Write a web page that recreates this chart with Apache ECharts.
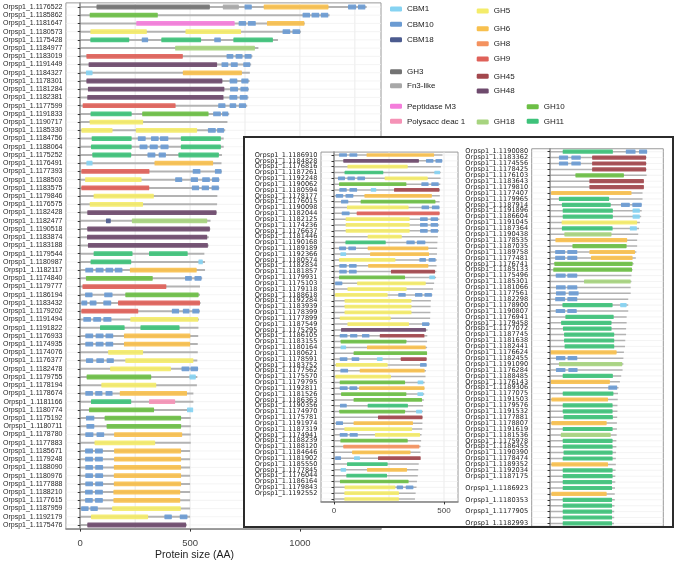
<!DOCTYPE html>
<html><head><meta charset="utf-8">
<script src="https://cdn.jsdelivr.net/npm/echarts@6/dist/echarts.min.js"></script>
<style>html,body{margin:0;padding:0;background:#fff}#c{width:675px;height:563px}</style>
</head><body><div id="c"></div>
<script>
// ---------------- DATA ----------------
const mainProteins = ['Orpsp1_1.1176522','Orpsp1_1.1185862','Orpsp1_1.1181647','Orpsp1_1.1180573','Orpsp1_1.1175428','Orpsp1_1.1184977','Orpsp1_1.1183019','Orpsp1_1.1191449','Orpsp1_1.1184327','Orpsp1_1.1178301','Orpsp1_1.1181284','Orpsp1_1.1182381','Orpsp1_1.1177599','Orpsp1_1.1191833','Orpsp1_1.1190717','Orpsp1_1.1185330','Orpsp1_1.1184756','Orpsp1_1.1188064','Orpsp1_1.1175252','Orpsp1_1.1176491','Orpsp1_1.1177393','Orpsp1_1.1188503','Orpsp1_1.1183575','Orpsp1_1.1179846','Orpsp1_1.1176575','Orpsp1_1.1182428','Orpsp1_1.1182477','Orpsp1_1.1190518','Orpsp1_1.1183874','Orpsp1_1.1183188','Orpsp1_1.1179544','Orpsp1_1.1180987','Orpsp1_1.1182117','Orpsp1_1.1174840','Orpsp1_1.1179777','Orpsp1_1.1186194','Orpsp1_1.1183432','Orpsp1_1.1179202','Orpsp1_1.1191494','Orpsp1_1.1191822','Orpsp1_1.1176933','Orpsp1_1.1174935','Orpsp1_1.1174076','Orpsp1_1.1176377','Orpsp1_1.1182478','Orpsp1_1.1179755','Orpsp1_1.1178194','Orpsp1_1.1178674','Orpsp1_1.1181166','Orpsp1_1.1180774','Orpsp1_1.1175192','Orpsp1_1.1180711','Orpsp1_1.1178780','Orpsp1_1.1177883','Orpsp1_1.1185671','Orpsp1_1.1179248','Orpsp1_1.1188090','Orpsp1_1.1180976','Orpsp1_1.1177888','Orpsp1_1.1188210','Orpsp1_1.1177615','Orpsp1_1.1187959','Orpsp1_1.1192179','Orpsp1_1.1175476'];
const mainLengths = [1304,1135,1022,1005,900,811,784,778,772,771,768,766,760,678,670,660,653,653,645,643,645,634,633,624,623,622,593,592,585,585,565,568,568,555,545,545,548,545,540,538,537,535,535,533,537,533,531,515,515,505,503,503,503,503,500,500,500,500,500,500,500,500,500,485];
// [protein index, domain, start, end]
const mainDomains = [
[0,'GH3',74,590],[0,'Fn3-like',649,722],[0,'CBM10',748,781],[0,'GH6',835,1130],[0,'CBM10',1219,1256],[0,'CBM10',1264,1298],
[1,'GH10',43,353],[1,'CBM10',1012,1046],[1,'CBM10',1053,1088],[1,'CBM10',1095,1129],
[2,'Peptidase M3',255,703],[2,'CBM10',721,755],[2,'CBM10',763,799],[2,'GH6',850,1020],
[3,'GH5',46,303],[3,'GH5',479,732],[3,'CBM10',921,956],[3,'CBM10',966,1001],
[4,'GH11',46,223],[4,'CBM10',280,309],[4,'GH11',369,550],[4,'CBM10',610,640],[4,'GH11',697,877],
[5,'GH18',432,795],
[6,'GH9',28,467],[6,'CBM10',666,697],[6,'CBM10',707,739],[6,'CBM10',748,780],
[7,'GH48',38,623],[7,'CBM10',643,674],[7,'CBM10',685,717],[7,'CBM10',742,774],
[8,'CBM1',26,56],[8,'GH6',467,736],
[9,'GH48',28,647],[9,'CBM10',680,715],[9,'CBM10',733,766],
[10,'GH48',35,656],[10,'CBM10',682,718],[10,'CBM10',729,765],
[11,'GH48',32,652],[11,'CBM10',679,715],[11,'CBM10',726,762],
[12,'GH9',11,434],[12,'CBM10',628,661],[12,'CBM10',680,710],[12,'CBM10',722,755],
[13,'GH11',47,234],[13,'GH10',282,584],[13,'CBM10',605,640],[13,'CBM10',646,674],
[14,'GH5',43,286],
[15,'GH5',5,147],[15,'GH5',253,532],[15,'CBM10',581,617],[15,'CBM10',623,655],
[16,'GH11',52,234],[16,'CBM10',262,298],[16,'CBM10',322,357],[16,'CBM10',363,401],[16,'GH11',458,640],
[17,'GH11',49,234],[17,'CBM10',270,306],[17,'CBM10',316,353],[17,'CBM10',365,402],[17,'GH11',458,640],
[18,'GH11',55,232],[18,'CBM10',306,342],[18,'CBM10',357,390],[18,'GH11',447,631],
[19,'CBM1',28,56],[19,'GH6',338,605],
[20,'GH9',5,315],[20,'CBM10',512,547],[20,'CBM10',613,643],
[21,'GH5',22,279],[21,'CBM10',432,464],[21,'CBM10',503,536],[21,'CBM10',555,590],[21,'CBM10',600,632],
[22,'GH9',5,314],[22,'CBM10',508,541],[22,'CBM10',553,586],[22,'CBM10',598,631],
[23,'GH5',61,335],
[24,'GH5',43,286],
[25,'GH48',32,620],
[26,'CBM18',117,139],[26,'GH18',235,578],
[27,'GH48',32,590],
[28,'GH48',31,578],
[29,'GH48',35,581],
[30,'GH11',61,238],[30,'GH11',313,489],
[31,'GH11',47,232],[31,'CBM1',538,558],
[32,'CBM10',23,59],[32,'CBM10',70,106],[32,'CBM10',115,150],[32,'CBM10',157,192],[32,'GH6',226,530],
[33,'GH10',26,330],[33,'CBM10',477,508],[33,'CBM10',520,552],
[34,'GH9',10,392],
[35,'CBM10',22,56],[35,'CBM10',109,147],[35,'GH10',205,539],
[36,'CBM10',5,32],[36,'CBM10',43,74],[36,'CBM10',105,141],[36,'GH9',172,545],
[37,'GH9',5,264],[37,'CBM10',417,450],[37,'CBM10',467,497],[37,'CBM10',510,542],
[38,'CBM10',14,49],[38,'CBM10',59,95],[38,'CBM10',105,142],[38,'GH5',228,537],
[39,'GH11',90,202],[39,'GH11',274,452],
[40,'CBM10',23,59],[40,'CBM10',70,106],[40,'CBM10',115,150],[40,'GH6',199,501],
[41,'CBM10',23,59],[41,'CBM10',70,106],[41,'CBM10',115,150],[41,'GH6',199,500],
[42,'GH5',127,286],
[43,'CBM10',26,59],[43,'CBM10',73,108],[43,'CBM10',120,153],[43,'GH5',205,515],
[44,'GH5',136,413],[44,'CBM10',461,497],[44,'CBM10',502,536],
[45,'GH10',29,323],[45,'CBM1',497,526],
[46,'GH5',96,346],
[47,'CBM10',23,58],[47,'CBM10',68,101],[47,'CBM10',115,147],[47,'GH6',180,486],
[48,'GH11',49,232],[48,'Polysacc deac 1',313,432],
[49,'GH10',40,336],[49,'CBM1',486,514],
[50,'CBM10',26,64],[50,'GH10',111,459],
[51,'CBM10',28,64],[51,'GH10',120,459],
[52,'CBM10',23,60],[52,'CBM10',74,109],[52,'GH6',154,464],
[53,'GH5',65,341],
[54,'CBM10',22,58],[54,'CBM10',67,103],[54,'GH6',154,459],
[55,'CBM10',22,58],[55,'CBM10',67,103],[55,'GH6',154,459],
[56,'CBM10',23,58],[56,'CBM10',68,104],[56,'GH6',153,459],
[57,'CBM10',23,58],[57,'CBM10',68,104],[57,'GH6',153,459],
[58,'CBM10',23,58],[58,'CBM10',68,104],[58,'GH6',153,459],
[59,'CBM10',22,57],[59,'CBM10',67,103],[59,'GH6',151,455],
[60,'CBM10',22,57],[60,'CBM10',67,103],[60,'GH6',151,455],
[61,'CBM10',4,38],[61,'CBM10',46,80],[61,'GH5',145,458],
[62,'GH5',49,309],[62,'CBM10',383,417],[62,'CBM10',453,488],
[63,'GH48',32,482]
];

const insetAProteins = ['Orpsp1_1.1186910','Orpsp1_1.1184828','Orpsp1_1.1176816','Orpsp1_1.1187261','Orpsp1_1.1192248','Orpsp1_1.1190062','Orpsp1_1.1180594','Orpsp1_1.1178177','Orpsp1_1.1176015','Orpsp1_1.1190098','Orpsp1_1.1182044','Orpsp1_1.1182125','Orpsp1_1.1174236','Orpsp1_1.1176637','Orpsp1_1.1181446','Orpsp1_1.1190168','Orpsp1_1.1189189','Orpsp1_1.1192366','Orpsp1_1.1180574','Orpsp1_1.1182834','Orpsp1_1.1181857','Orpsp1_1.1179931','Orpsp1_1.1175103','Orpsp1_1.1179118','Orpsp1_1.1188618','Orpsp1_1.1192284','Orpsp1_1.1183939','Orpsp1_1.1178399','Orpsp1_1.1177899','Orpsp1_1.1187549','Orpsp1_1.1175295','Orpsp1_1.1186105','Orpsp1_1.1183155','Orpsp1_1.1180164','Orpsp1_1.1180621','Orpsp1_1.1178591','Orpsp1_1.1183752','Orpsp1_1.1177562','Orpsp1_1.1175570','Orpsp1_1.1179795','Orpsp1_1.1192811','Orpsp1_1.1181526','Orpsp1_1.1186363','Orpsp1_1.1190356','Orpsp1_1.1174970','Orpsp1_1.1175781','Orpsp1_1.1191974','Orpsp1_1.1187319','Orpsp1_1.1174941','Orpsp1_1.1188239','Orpsp1_1.1188120','Orpsp1_1.1184646','Orpsp1_1.1181902','Orpsp1_1.1185550','Orpsp1_1.1177845','Orpsp1_1.1176044','Orpsp1_1.1186164','Orpsp1_1.1179843','Orpsp1_1.1192552',' '];
const insetALengths = [493,492,486,485,484,483,482,481,480,480,480,479,478,477,472,470,469,468,467,466,465,464,455,450,447,440,439,438,437,436,425,424,423,423,422,422,421,418,416,412,411,410,408,405,404,403,402,401,398,396,394,393,392,385,383,381,377,375,371,368];
const insetADomains = [
[0,'CBM10',23,59],[0,'CBM10',70,106],[0,'GH6',148,455],
[1,'GH48',42,386],[1,'CBM10',418,452],[1,'CBM10',461,492],
[2,'GH5',61,335],
[3,'GH11',48,224],[3,'CBM1',456,482],
[4,'CBM10',18,50],[4,'CBM10',61,95],[4,'CBM10',106,141],[4,'GH5',230,426],
[5,'GH10',23,329],[5,'CBM10',397,430],[5,'CBM10',442,476],
[6,'CBM10',24,58],[6,'CBM10',70,105],[6,'CBM1',167,192],[6,'GH45',273,479],
[7,'CBM10',8,42],[7,'CBM10',52,88],[7,'GH6',138,445],
[8,'CBM10',32,65],[8,'GH10',121,461],
[9,'GH5',59,339],[9,'CBM10',398,432],[9,'CBM10',445,479],
[10,'CBM10',35,71],[10,'GH9',103,480],
[11,'GH5',53,344],[11,'CBM10',391,426],[11,'CBM10',439,473],
[12,'GH5',53,344],[12,'CBM10',391,426],[12,'CBM10',439,473],
[13,'GH5',53,344],[13,'CBM10',391,426],[13,'CBM10',439,473],
[14,'GH5',153,308],
[15,'GH11',52,235],[15,'CBM10',329,367],[15,'CBM10',377,415],
[16,'CBM10',23,55],[16,'CBM10',65,100],[16,'GH6',153,429],
[17,'CBM1',29,55],[17,'GH6',164,432],
[18,'GH5',23,279],[18,'CBM10',388,418],[18,'CBM10',430,462],
[19,'CBM10',24,58],[19,'CBM10',68,103],[19,'GH6',155,429],
[20,'CBM10',24,58],[20,'CBM10',68,103],[20,'GH45',259,459],
[21,'GH10',23,323],[21,'CBM1',433,459],
[22,'CBM10',5,38],[22,'GH5',105,417],
[23,'GH5',61,330],
[24,'GH5',5,244],[24,'CBM10',292,326],[24,'CBM10',368,402],[24,'CBM10',411,445],
[25,'GH5',48,352],[26,'GH5',48,352],[27,'GH5',48,352],
[28,'GH5',26,258],
[29,'GH5',61,341],[29,'CBM10',400,433],
[30,'GH48',32,418],
[31,'CBM10',26,61],[31,'CBM10',73,106],[31,'CBM10',127,161],[31,'GH45',208,411],
[32,'GH10',30,329],
[33,'CBM1',30,55],[33,'GH6',150,417],
[34,'GH10',89,423],
[35,'CBM10',26,61],[35,'CBM10',80,115],[35,'CBM1',195,221],[35,'GH45',303,421],
[36,'GH5',8,244],[36,'CBM10',391,421],
[37,'CBM10',29,64],[37,'GH6',117,412],
[38,'GH5',6,259],
[39,'GH10',26,323],[39,'CBM1',380,406],
[40,'CBM10',26,62],[40,'CBM10',70,106],[40,'GH6',114,411],
[41,'GH10',32,329],[41,'CBM1',379,406],
[42,'GH10',89,400],
[43,'CBM10',27,58],[43,'GH11',153,336],
[44,'GH10',24,323],[44,'CBM1',373,400],
[45,'GH45',200,402],
[46,'CBM10',9,41],[46,'GH6',89,359],
[47,'GH5',47,355],
[48,'CBM10',26,62],[48,'CBM10',71,108],[48,'GH5',186,391],
[49,'GH10',29,335],
[50,'GH8',42,388],
[51,'GH6',82,348],
[52,'CBM10',5,32],[52,'CBM1',91,118],[52,'GH45',200,394],
[53,'GH11',59,244],
[54,'CBM1',30,55],[54,'GH6',150,332],
[55,'GH11',56,241],
[56,'GH10',27,339],
[57,'GH5',48,279],[57,'CBM10',285,314],[57,'CBM10',326,361],
[58,'GH5',47,295],
[59,'GH5',47,295]
];

const insetBProteins = ['Orpsp1_1.1190080','Orpsp1_1.1183362','Orpsp1_1.1174556','Orpsp1_1.1178425','Orpsp1_1.1176103','Orpsp1_1.1183643','Orpsp1_1.1179810','Orpsp1_1.1177407','Orpsp1_1.1179965','Orpsp1_1.1187914','Orpsp1_1.1191896','Orpsp1_1.1186604','Orpsp1_1.1191045','Orpsp1_1.1187364','Orpsp1_1.1190438','Orpsp1_1.1178535','Orpsp1_1.1187035','Orpsp1_1.1189758','Orpsp1_1.1177481','Orpsp1_1.1176741','Orpsp1_1.1185133','Orpsp1_1.1175496','Orpsp1_1.1185301','Orpsp1_1.1181066','Orpsp1_1.1177561','Orpsp1_1.1182298','Orpsp1_1.1178900','Orpsp1_1.1190807','Orpsp1_1.1176941','Orpsp1_1.1179458','Orpsp1_1.1177072','Orpsp1_1.1187745','Orpsp1_1.1181638','Orpsp1_1.1182441','Orpsp1_1.1176624','Orpsp1_1.1182455','Orpsp1_1.1191090','Orpsp1_1.1176284','Orpsp1_1.1188485','Orpsp1_1.1176143','Orpsp1_1.1189306','Orpsp1_1.1177075','Orpsp1_1.1191503','Orpsp1_1.1179576','Orpsp1_1.1191532','Orpsp1_1.1177881','Orpsp1_1.1178807','Orpsp1_1.1191619','Orpsp1_1.1181536','Orpsp1_1.1175978','Orpsp1_1.1186455','Orpsp1_1.1190390','Orpsp1_1.1178474','Orpsp1_1.1189352','Orpsp1_1.1192034','Orpsp1_1.1187175',' ','Orpsp1_1.1186923','  ','Orpsp1_1.1180353','   ','Orpsp1_1.1177905','    ','Orpsp1_1.1182993'];
const insetBLengths = [360,358,358,358,358,348,348,343,343,340,340,338,333,330,327,323,323,320,318,310,306,302,302,299,299,290,290,290,284,284,282,282,279,278,274,272,272,269,264,259,254,252,251,250,250,249,248,248,247,246,246,245,244,244,243,242,242,241,240,240,239,238,238,237];
const insetBDomains = [
[0,'GH11',47,233],[0,'CBM10',281,317],[0,'CBM10',330,360],
[1,'CBM10',33,67],[1,'CBM10',79,114],[1,'GH45',156,356],
[2,'CBM10',33,67],[2,'CBM10',79,114],[2,'GH45',156,356],
[3,'GH45',156,356],
[4,'GH10',94,274],
[5,'GH45',146,348],[6,'GH45',146,348],
[7,'GH6',4,302],
[8,'GH11',33,219],
[9,'GH11',44,225],[9,'CBM10',263,296],[9,'CBM10',305,340],
[10,'GH11',47,233],[10,'CBM1',306,333],
[11,'GH11',47,233],[11,'CBM1',306,333],
[12,'GH5',43,323],
[13,'GH11',44,232],[13,'CBM1',296,322],
[14,'GH18',53,228],
[15,'GH6',20,286],
[16,'GH10',83,284],
[17,'CBM10',19,56],[17,'CBM10',64,101],[17,'GH6',146,315],
[18,'CBM10',19,56],[18,'CBM10',64,101],[18,'GH6',152,306],
[19,'GH10',16,306],
[20,'GH10',12,304],
[21,'CBM10',21,58],[21,'CBM10',64,101],
[22,'GH18',126,299],
[23,'CBM10',22,58],[23,'CBM10',64,101],
[24,'CBM10',22,58],[24,'CBM10',69,106],
[25,'CBM10',19,56],[25,'CBM10',64,101],
[26,'GH11',46,232],[26,'CBM1',260,284],
[27,'CBM10',21,56],[27,'CBM10',64,99],
[28,'GH11',57,236],[29,'GH11',41,228],[30,'GH11',48,228],[31,'GH11',52,238],[32,'GH11',52,238],[33,'GH11',54,238],
[34,'GH6',0,247],
[35,'CBM10',22,57],[35,'CBM10',65,101],
[36,'GH18',33,268],
[37,'CBM10',22,57],[37,'CBM10',68,102],
[38,'GH11',47,233],
[39,'GH6',2,222],
[40,'CBM10',216,249],
[41,'GH11',47,235],[42,'GH6',5,215],[43,'GH11',47,232],[44,'GH11',47,232],[45,'GH11',50,233],[46,'GH6',5,210],
[47,'GH11',47,232],[48,'GH18',40,225],[49,'GH11',47,232],[50,'GH11',47,232],[51,'GH11',50,232],[52,'GH11',47,232],
[53,'GH6',5,215],[54,'GH11',47,232],[55,'GH11',47,232],[56,'GH11',47,230],[57,'GH11',47,230],[58,'GH6',5,210],
[59,'GH11',47,230],[60,'GH11',47,230],[61,'GH11',47,230],[62,'GH11',47,230],[63,'GH11',47,230]
];

const domainColors = {
 'CBM1':'#86D3F2','CBM10':'#6B9BD2','CBM18':'#4C5B8F','GH3':'#737373','Fn3-like':'#A8A8A8',
 'Peptidase M3':'#F47DDB','Polysacc deac 1':'#F592B6','GH5':'#F4EC6A','GH6':'#F8C04E','GH8':'#F4925F',
 'GH9':'#DF6159','GH45':'#A3474D','GH48':'#6E4A6D','GH18':'#A7D47F','GH10':'#6CBF45','GH11':'#3EC27A'
};
const mainTicks = [0,500,1000];
const mainGridVals = [0,250,500,750,1000,1250];
const insetTicks = [0,500];
const insetGridVals = [0,250,500];
// legend layout: [name, left, centerY]
const legendLayout = [
 ['CBM1',390,9],['CBM10',390,24.3],['CBM18',390,39.7],['GH3',390,71.7],['Fn3-like',390,85.7],
 ['Peptidase M3',390,106.3],['Polysacc deac 1',390,121.3],
 ['GH5',476.7,11],['GH6',476.7,28.7],['GH8',476.7,43.7],['GH9',476.7,59],['GH45',476.7,76.3],['GH48',476.7,91],['GH18',476.7,122],
 ['GH10',526.7,106.7],['GH11',526.7,121.3]
];

// ---------------- BUILD ----------------
function bandGrid(n, yFirst, yLast){ const b=(yLast-yFirst)/(n-1); return {top:yFirst-b/2, height:b*n}; }
const panels = [
 {names:mainProteins, lens:mainLengths, doms:mainDomains, left:63, width:318, min:-65.2, max:1369, g:bandGrid(64,7,525), zl:0, hf:0.58, lw:2, font:7, family:'Liberation Sans', ticks:mainTicks, grid:mainGridVals, showX:true, bg:'#fff'},
 {names:insetAProteins, lens:insetALengths, doms:insetADomains, left:321, width:137, min:-59.1, max:563.6, g:bandGrid(60,155,499), zl:1, hf:0.64, lw:1.5, font:6.6, family:'DejaVu Sans', ticks:insetTicks, grid:insetGridVals, showX:true, bg:'#fff'},
 {names:insetBProteins, lens:insetBLengths, doms:insetBDomains, left:531.7, width:131.6, min:-68, max:420, g:bandGrid(64,151.7,523.4), zl:1, hf:0.72, lw:1.5, font:6.6, family:'DejaVu Sans', ticks:[], grid:[0], showX:false, bg:'transparent'}
];
const grids=[], xAxes=[], yAxes=[], series=[];
panels.forEach((p,k)=>{
 grids.push({left:p.left, top:p.g.top, width:p.width, height:p.g.height, show:true, borderColor:'#9a9a9a', borderWidth:1, backgroundColor:p.bg, zlevel:p.zl, z:1});
 xAxes.push({type:'value', gridIndex:k, min:p.min, max:p.max, zlevel:p.zl, z:30,
  axisLine:{show:true, onZero:false, lineStyle:{color:'#8a8a8a', width:1.5}},
  axisTick:{show:p.showX, customValues:p.ticks, length:2.5, lineStyle:{color:'#333'}},
  axisLabel:{show:p.showX, customValues:p.ticks, formatter:v=>String(v), fontSize:k===0?9.5:8, color:'#444', margin:k===0?9:5, fontFamily:'Liberation Sans'},
  splitLine:{show:false}});
 yAxes.push({type:'category', gridIndex:k, data:p.names, inverse:true, zlevel:p.zl, z:30,
  axisLine:{show:true, lineStyle:{color:'#8a8a8a', width:1.5}},
  axisTick:{show:true, alignWithLabel:true, interval:0, length:2.5, lineStyle:{color:'#333'}},
  axisLabel:{interval:0, fontSize:p.font, color:'#1e1e1e', margin:3.5, fontFamily:p.family},
  splitLine:{show:false}});
 series.push({type:'custom', xAxisIndex:k, yAxisIndex:k, zlevel:p.zl, z:2, silent:true,
  data:p.grid.map(v=>[v]), encode:{x:0},
  renderItem:(params,api)=>{ const cs=params.coordSys; const x=api.coord([api.value(0),0])[0];
   return {type:'line', shape:{x1:x,y1:cs.y,x2:x,y2:cs.y+cs.height}, style:{stroke:'#e6e6e6', lineWidth:0.8}}; }});
 series.push({type:'custom', xAxisIndex:k, yAxisIndex:k, zlevel:p.zl, z:3, silent:true,
  data:p.lens.map((L,i)=>[0,L,i]), encode:{x:[0,1], y:2},
  renderItem:(params,api)=>{ const a=api.coord([api.value(0),api.value(2)]); const b=api.coord([api.value(1),api.value(2)]); const cs=params.coordSys;
   return {type:'group', children:[
    {type:'line', shape:{x1:cs.x,y1:a[1],x2:cs.x+cs.width,y2:a[1]}, style:{stroke:'#efefef', lineWidth:0.7}},
    {type:'line', shape:{x1:a[0],y1:a[1],x2:b[0],y2:b[1]}, style:{stroke:'#b3b3b3', lineWidth:p.lw}}]}; }});
 Object.keys(domainColors).forEach(t=>{
  const rows=p.doms.filter(d=>d[1]===t); if(!rows.length) return;
  series.push({type:'custom', name:t, xAxisIndex:k, yAxisIndex:k, zlevel:p.zl, z:5, silent:true,
   itemStyle:{color:domainColors[t]},
   data:rows.map(d=>[d[2],d[3],d[0]]), encode:{x:[0,1], y:2},
   renderItem:(params,api)=>{ const a=api.coord([api.value(0),api.value(2)]); const b=api.coord([api.value(1),api.value(2)]);
    const h=api.size([0,1])[1]*p.hf;
    return {type:'rect', shape:{x:a[0],y:a[1]-h/2,width:b[0]-a[0],height:h,r:0.6}, style:{fill:domainColors[t], opacity:0.92}}; }});
 });
});
Object.keys(domainColors).forEach(t=>{
 if(!series.some(s=>s.name===t)) series.push({type:'custom', name:t, xAxisIndex:0, yAxisIndex:0, itemStyle:{color:domainColors[t]}, data:[], renderItem:()=>null});
});
const legends = legendLayout.map(([n,l,cy])=>({data:[n], left:l, top:cy-5, padding:0, icon:'roundRect', itemWidth:12, itemHeight:5, selectedMode:false,
 textStyle:{fontSize:8, color:'#222', fontFamily:'Liberation Sans', lineHeight:10}}));

const chart = echarts.init(document.getElementById('c'), null, {renderer:'canvas'});
chart.setOption({
 animation:false, backgroundColor:'#fff',
 grid:grids, xAxis:xAxes, yAxis:yAxes, series:series, legend:legends,
 graphic:{elements:[
  {type:'rect', zlevel:1, z:0, shape:{x:244, y:137, width:429, height:390}, style:{fill:'#fff', stroke:'#2b2b2b', lineWidth:1.8}},
  {type:'rect', zlevel:1, z:100, shape:{x:244, y:137, width:429, height:390}, style:{fill:'none', stroke:'#2b2b2b', lineWidth:1.8}},
  {type:'text', zlevel:0, z:50, x:194.5, y:555, style:{text:'Protein size (AA)', fontSize:10.5, fill:'#1e1e1e', fontFamily:'Liberation Sans', align:'center', verticalAlign:'middle'}}
 ]}
});
</script></body></html>
